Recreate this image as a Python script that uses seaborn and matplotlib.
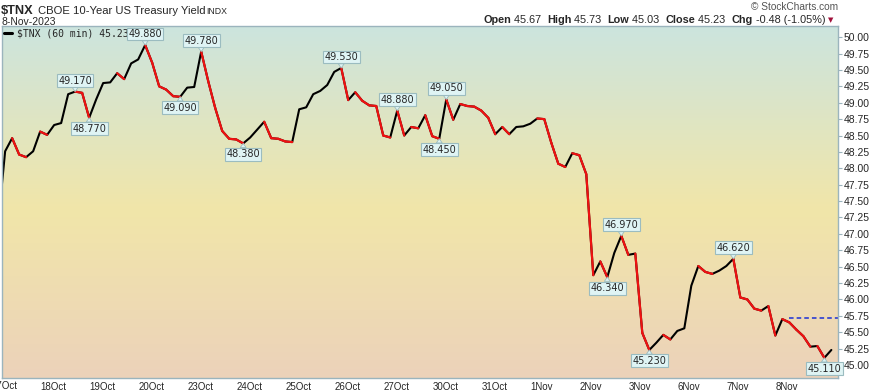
import numpy as np
import matplotlib
matplotlib.use("Agg")
import matplotlib.pyplot as plt
from matplotlib.collections import LineCollection
from matplotlib.colors import LinearSegmentedColormap
import seaborn as sns

# hourly closes of $TNX (x10), index -1 is the last 17-Oct bar (clipped at left)
bar_idx = list(range(-1, 119))
closes = [47.16,
          48.26, 48.46, 48.21, 48.17, 48.26, 48.56, 48.51, 48.66, 48.69, 49.13,
          49.17, 49.15, 48.77, 49.05, 49.30, 49.31, 49.45, 49.36, 49.60, 49.66,
          49.88, 49.61, 49.25, 49.20, 49.10, 49.09, 49.23, 49.24, 49.78, 49.33,
          48.92, 48.57, 48.45, 48.44, 48.38, 48.47, 48.59, 48.71, 48.46, 48.45,
          48.41, 48.40, 48.90, 48.93, 49.13, 49.18, 49.27, 49.47, 49.53, 49.04,
          49.16, 49.03, 48.96, 48.95, 48.50, 48.47, 48.88, 48.50, 48.63, 48.61,
          48.81, 48.49, 48.45, 49.05, 48.74, 48.98, 48.95, 48.94, 48.88, 48.77,
          48.52, 48.63, 48.52, 48.63, 48.64, 48.68, 48.76, 48.75, 48.39, 48.07,
          48.02, 48.23, 48.20, 47.91, 46.37, 46.58, 46.34, 46.71, 46.97, 46.68,
          46.70, 45.49, 45.23, 45.34, 45.46, 45.39, 45.52, 45.56, 46.21, 46.51,
          46.42, 46.39, 46.44, 46.51, 46.62, 46.03, 46.00, 45.86, 45.83, 45.90,
          45.45, 45.70, 45.65, 45.54, 45.44, 45.28, 45.29, 45.11, 45.23]

day_labels = ["18Oct", "19Oct", "20Oct", "23Oct", "24Oct", "25Oct", "26Oct", "27Oct",
              "30Oct", "31Oct", "1Nov", "2Nov", "3Nov", "6Nov", "7Nov", "8Nov"]
day_start = [5, 12, 19, 26, 33, 40, 47, 54, 61, 68, 75, 82, 89, 96, 103, 110]

# annotated swing points: (bar index, label, above?)
notes = [(10, "49.170", True), (12, "48.770", False), (20, "49.880", True),
         (25, "49.090", False), (28, "49.780", True), (34, "48.380", False),
         (48, "49.530", True), (56, "48.880", True), (62, "48.450", False),
         (63, "49.050", True), (86, "46.340", False), (88, "46.970", True),
         (92, "45.230", False), (104, "46.620", True), (117, "45.110", False)]

prev_close = 45.71

sns.set_style("white")
plt.rcParams["font.family"] = ["Liberation Sans", "DejaVu Sans"]

W, H = 872, 391
fig = plt.figure(figsize=(W / 100, H / 100), dpi=100)
ax = fig.add_axes([1.5 / W, 1 - 377.5 / H, (838 - 1.5) / W, (377.5 - 26) / H])

x0, x1 = -0.52, 118.95
y0, y1 = 44.81, 50.17

# gradient background
bg = LinearSegmentedColormap.from_list("bg", [(0.0, "#cce4de"), (0.52, "#f1e6a9"), (1.0, "#ecd2ba")])
ax.imshow(np.linspace(0, 1, 256).reshape(-1, 1), cmap=bg, aspect="auto",
          extent=[x0, x1, y0, y1], origin="upper", zorder=0)

xs = np.array(bar_idx)
ys = np.array(closes)
sns.lineplot(x=xs, y=ys, color="black", lw=1.5, ax=ax, zorder=2)
segs = [[(xs[i - 1], ys[i - 1]), (xs[i], ys[i])] for i in range(1, len(xs)) if ys[i] < ys[i - 1]]
ax.add_collection(LineCollection(segs, colors="#ee1111", lw=1.6, zorder=3, capstyle="round"))

ax.plot([112, x1], [prev_close, prev_close], ls=(0, (3, 2)), color="#1a2fd6", lw=1.1, zorder=2)

for i, txt, above in notes:
    v = closes[bar_idx.index(i)]
    ax.annotate(txt, xy=(i, v), xytext=(0, 11 if above else -11), textcoords="offset pixels",
                ha="center", va="center", fontsize=7, family="DejaVu Sans", zorder=5,
                bbox=dict(boxstyle="square,pad=0.15", fc="#dff4f4", ec="#9bbcc0", lw=0.8),
                arrowprops=dict(arrowstyle="wedge,tail_width=0.6,shrink_factor=0.5",
                                fc="#dff4f4", ec="#9bbcc0", lw=0.6, shrinkA=0, shrinkB=0))

ax.set_xlim(x0, x1)
ax.set_ylim(y0, y1)
ax.set_xlabel("")
ax.set_ylabel("")

ax.set_xticks(day_start)
ax.set_xticklabels(day_labels, ha="left", fontsize=7)
ax.set_xticks(np.arange(0, 119), minor=True)
ax.yaxis.tick_right()
ax.set_yticks(np.arange(45.0, 50.01, 0.25))
ax.set_yticklabels([f"{t:.2f}" for t in np.arange(45.0, 50.01, 0.25)], fontsize=7.5)
ax.tick_params(axis="x", which="major", direction="out", length=2.5, width=0.8, color="#9bb4bd", pad=0.5)
ax.tick_params(axis="x", which="minor", direction="out", length=1.5, width=0.6, color="#9bb4bd")
ax.tick_params(axis="y", which="major", direction="out", length=3, width=0.8, color="#9bb4bd", pad=1)
for s in ax.spines.values():
    s.set_color("#9bb4bd")
    s.set_linewidth(1.0)

# 17Oct label cut off at the left edge
ax.text(-2, -0.01, "17Oct", transform=ax.get_xaxis_transform(), ha="left", va="top", fontsize=7)

# legend-like line label
ax.plot([-0.2, 1.0], [50.06, 50.06], color="black", lw=2.2, zorder=6)
ax.text(1.7, 50.06, "$TNX (60 min) 45.23", fontsize=7.0, family="DejaVu Sans Mono", va="center", zorder=4)

# header
fig.text(1 / W, 1 - 11 / H, "$TNX", fontsize=9.2, weight="bold", va="center")
fig.text(38 / W, 1 - 11 / H, "CBOE 10-Year US Treasury Yield", fontsize=8.1, va="center")
fig.text(206 / W, 1 - 11.5 / H, "INDX", fontsize=6.3, va="center")
fig.text(1 / W, 1 - 22 / H, "8-Nov-2023", fontsize=7.5, va="center")
fig.text(838 / W, 1 - 7 / H, "\u00a9 StockCharts.com", fontsize=7.3, color="#555555", ha="right", va="center")

hx = 483
parts = [("Open", True), (" 45.67  ", False), ("High", True), (" 45.73  ", False), ("Low", True),
         (" 45.03  ", False), ("Close", True), (" 45.23  ", False), ("Chg", True), (" -0.48 (-1.05%)", False)]
r = fig.canvas.get_renderer()
for txt, bold in parts:
    t = fig.text(hx / W, 1 - 20 / H, txt, fontsize=7.8, weight="bold" if bold else "normal", va="center")
    hx += t.get_window_extent(renderer=r).width
fig.text((hx + 3) / W, 1 - 20.5 / H, "\u25bc", fontsize=5, color="#a0103a", va="center", family="DejaVu Sans")

fig.savefig("out.png", dpi=100)
